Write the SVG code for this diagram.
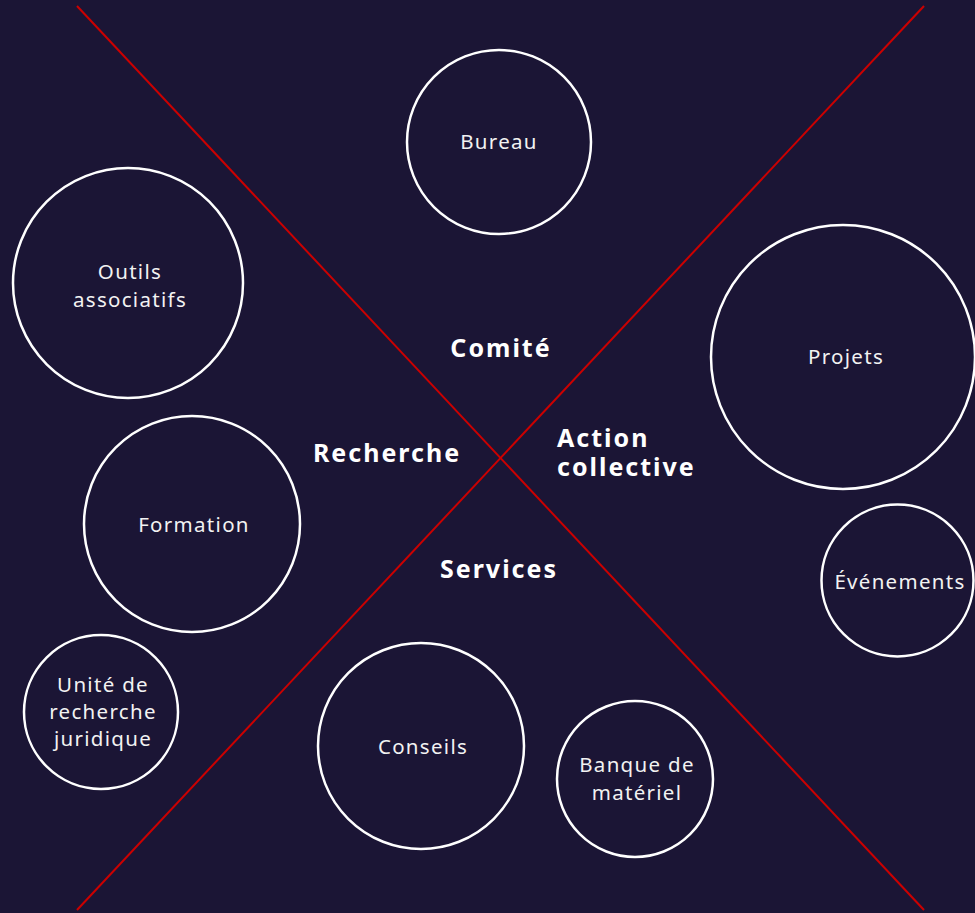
<svg xmlns="http://www.w3.org/2000/svg" width="975" height="913" viewBox="0 0 975 913">
<style>
.n{fill:none;stroke:#ffffff;stroke-width:2.5}
.t{font-family:"Noto Sans","DejaVu Sans",sans-serif;font-size:20.5px;letter-spacing:1.3px;fill:#f2f2f2;text-anchor:middle}
.b{font-family:"Noto Sans","DejaVu Sans",sans-serif;font-size:25px;letter-spacing:2px;font-weight:bold;fill:#ffffff}
.l{stroke:#cc0000;stroke-width:2}
</style>
<rect width="975" height="913" fill="#1b1535"/>
<g id="connectors">
<line class="l" x1="77" y1="6" x2="924" y2="910"/>
<line class="l" x1="924" y1="6" x2="77" y2="910"/>
</g>
<g id="comite"><text class="b" x="501" y="357" text-anchor="middle">Comité</text></g>
<g id="recherche"><text class="b" x="387" y="462" text-anchor="middle">Recherche</text></g>
<g id="services"><text class="b" x="499" y="578" text-anchor="middle">Services</text></g>
<g id="action"><text class="b" x="557" y="447">Action</text><text class="b" x="557" y="476">collective</text></g>
<g id="bureau"><circle class="n" cx="499" cy="142" r="92"/><text class="t" x="499" y="149">Bureau</text></g>
<g id="outils"><circle class="n" cx="128" cy="283" r="115"/><text class="t" x="130" y="279">Outils</text><text class="t" x="130" y="307">associatifs</text></g>
<g id="projets"><circle class="n" cx="843" cy="357" r="132"/><text class="t" x="846" y="364">Projets</text></g>
<g id="formation"><circle class="n" cx="192" cy="524" r="108"/><text class="t" x="194" y="532">Formation</text></g>
<g id="evenements"><circle class="n" cx="897.5" cy="580.5" r="76"/><text class="t" x="900" y="589">Événements</text></g>
<g id="unite"><circle class="n" cx="101" cy="712" r="77"/><text class="t" x="103" y="692">Unité de</text><text class="t" x="103" y="719">recherche</text><text class="t" x="103" y="746">juridique</text></g>
<g id="conseils"><circle class="n" cx="421" cy="746" r="103"/><text class="t" x="423" y="754">Conseils</text></g>
<g id="banque"><circle class="n" cx="635" cy="779" r="78"/><text class="t" x="637" y="772">Banque de</text><text class="t" x="637" y="800">matériel</text></g>
</svg>
